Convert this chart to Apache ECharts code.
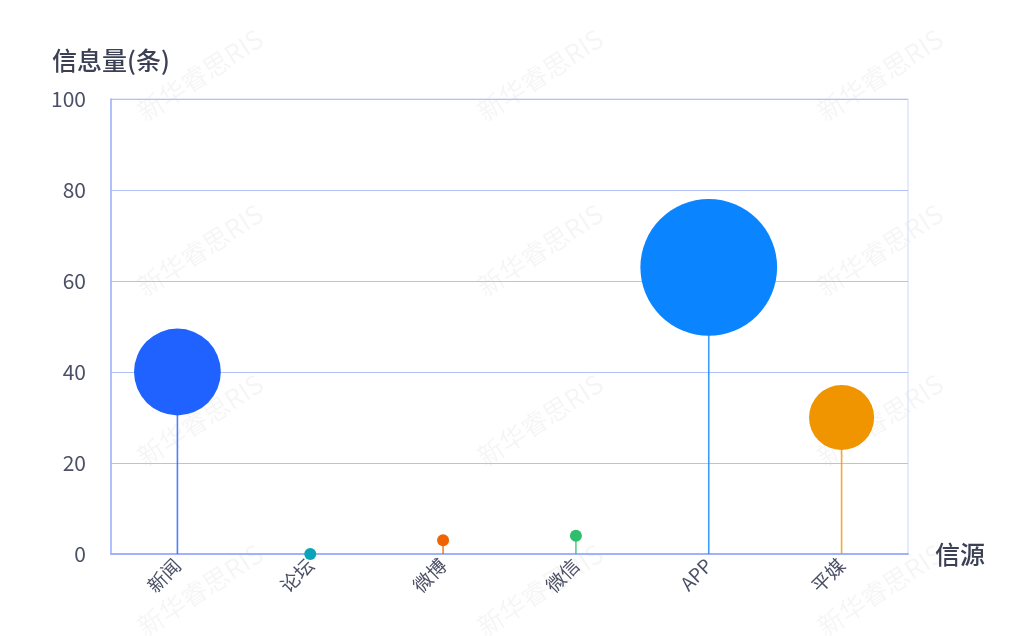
<!DOCTYPE html>
<html>
<head>
<meta charset="utf-8">
<script src="https://cdn.jsdelivr.net/npm/echarts@6/dist/echarts.min.js"></script>
<style>html,body{margin:0;padding:0;background:#fff;}#c{width:1024px;height:636px;}</style>
</head>
<body>
<div id="c"></div>
<script>
var categories = ['新闻', '论坛', '微博', '微信', 'APP', '平媒'];
var values = [40, 0, 3, 4, 63, 30];
var colors = ['#1f62ff', '#0aa3b8', '#f06400', '#2fbf6c', '#0a84ff', '#f09500'];
var yTicks = [0, 20, 40, 60, 80, 100];

var chart = echarts.init(document.getElementById('c'));
var font = '"PingFang SC","Noto Sans CJK SC","Noto Sans",sans-serif';
var wm = [];
[75, 250, 420, 590].forEach(function (y) {
  [200, 540, 880].forEach(function (x) {
    wm.push({
      type: 'text', x: x, y: y, rotation: Math.PI / 180 * 33, silent: true, z: -10,
      style: { text: '新华睿思RIS', fill: 'rgba(0,0,0,0.04)', font: '26px ' + font, align: 'center', verticalAlign: 'middle' }
    });
  });
});
chart.setOption({
  animation: false,
  textStyle: { fontFamily: font },
  graphic: wm,
  grid: { left: 111, right: 116, top: 99, bottom: 82, show: true, borderColor: '#cdd6fd', borderWidth: 1 },
  xAxis: {
    type: 'category', data: categories, boundaryGap: true,
    name: '信源', nameLocation: 'end', nameGap: 27,
    nameTextStyle: { fontSize: 25, color: '#3c4055', fontWeight: 500 },
    axisLine: { lineStyle: { color: '#9fb2fb', width: 2 } },
    axisTick: { show: false },
    axisLabel: { rotate: 45, fontSize: 19, color: '#4c5066', margin: 8 },
    splitLine: { show: false }
  },
  yAxis: {
    type: 'value', min: yTicks[0], max: yTicks[yTicks.length - 1], interval: 20,
    name: '信息量(条)', nameLocation: 'end', nameGap: 26,
    nameTextStyle: { fontSize: 25, color: '#3c4055', fontWeight: 500 },
    axisLine: { show: true, lineStyle: { color: '#9fb2fb', width: 1.5 } },
    axisTick: { show: false },
    axisLabel: { fontSize: 21, color: '#4c5066', margin: 25 },
    splitLine: { lineStyle: { color: '#b3c1fb', width: 1.2 } }
  },
  series: [
    {
      type: 'bar', barWidth: 1.6, z: 2,
      data: values.map(function (v, i) {
        return { value: v, itemStyle: { color: colors[i], opacity: 0.8 } };
      })
    },
    {
      type: 'scatter', z: 3,
      data: values.map(function (v, i) {
        return { value: v, itemStyle: { color: colors[i], opacity: 1 } };
      }),
      symbolSize: function (v) { return Math.max(12, v * 2.17); }
    }
  ]
});
</script>
</body>
</html>
